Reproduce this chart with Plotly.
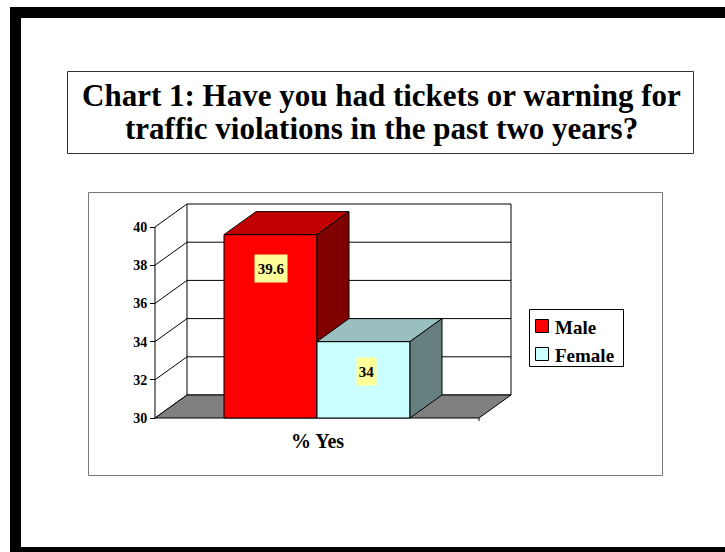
import plotly.graph_objects as go

# ---------------- data ----------------
categories = ["% Yes"]
series_names = ["Male", "Female"]
male_values = [39.6]
female_values = [34.0]
y_tick_values = [30, 32, 34, 36, 38, 40]
y_tick_labels = ["30", "32", "34", "36", "38", "40"]
title_lines = ["Chart 1: Have you had tickets or warning for",
               "traffic violations in the past two years?"]

series_values = [male_values, female_values]

# ---------------- styles ----------------
W, H = 725, 552
FONT = "Liberation Serif, Times New Roman, serif"
front_colors = ["#FF0000", "#CCFFFF"]
top_colors = ["#C00000", "#99BFBF"]
side_colors = ["#800000", "#668080"]

# pixel scale of the axes (plot area spans whole canvas)
PX_X = 93.0          # pixels per category-slot unit (one bar width)
PX_Y = 19.1          # pixels per value unit
X_ORIGIN_PX = 270.5  # pixel column of the first bar centre
Y_BASE_PX = 418.0    # pixel row of the axis minimum
Y_MIN, Y_MAX = 30.0, 40.0

x_range = [(0 - X_ORIGIN_PX) / PX_X, (W - X_ORIGIN_PX) / PX_X]
y_range = [Y_MIN - (H - Y_BASE_PX) / PX_Y, Y_MIN + Y_BASE_PX / PX_Y]

DEPTH_X = 32 / PX_X
DEPTH_Y = 23 / PX_Y
BAR_WIDTH = 1.0
SIDE_GAP = 0.742
n_series = len(series_names)
floor_left = -BAR_WIDTH / 2 - SIDE_GAP
floor_right = (n_series - 1) + BAR_WIDTH / 2 + SIDE_GAP


def px(x):
    return x / W


def py(y):
    return 1 - y / H


fig = go.Figure()


def poly(xs, ys, fill, line="black"):
    fig.add_trace(go.Scatter(
        x=xs + [xs[0]], y=ys + [ys[0]], mode="lines", fill="toself",
        fillcolor=fill, line=dict(color=line, width=1),
        hoverinfo="skip", showlegend=False))


# back wall + side wall lines
wx, wy = [], []
bl, br = floor_left + DEPTH_X, floor_right + DEPTH_X
for v in y_tick_values:
    # diagonal on the left wall
    wx += [floor_left, bl, None]
    wy += [v, v + DEPTH_Y, None]
    # back wall gridline
    wx += [bl, br, None]
    wy += [v + DEPTH_Y, v + DEPTH_Y, None]
wx += [bl, bl, None, br, br, None, floor_left, floor_left, None,
       floor_right, floor_right, None]
wy += [Y_MIN + DEPTH_Y, Y_MAX + DEPTH_Y, None, Y_MIN + DEPTH_Y, Y_MAX + DEPTH_Y, None,
       Y_MIN, Y_MAX, None, Y_MIN, Y_MIN - 3 / PX_Y, None]
fig.add_trace(go.Scatter(x=wx, y=wy, mode="lines",
                         line=dict(color="black", width=1),
                         hoverinfo="skip", showlegend=False))

# floor
poly([floor_left, floor_right, br, bl],
     [Y_MIN, Y_MIN, Y_MIN + DEPTH_Y, Y_MIN + DEPTH_Y], "#808080")

# bars
for i, vals in enumerate(series_values):
    v = vals[0]
    x0, x1 = i - BAR_WIDTH / 2, i + BAR_WIDTH / 2
    poly([x0, x1, x1, x0], [Y_MIN, Y_MIN, v, v], front_colors[i])
    poly([x0, x1, x1 + DEPTH_X, x0 + DEPTH_X], [v, v, v + DEPTH_Y, v + DEPTH_Y], top_colors[i])
    poly([x1, x1, x1 + DEPTH_X, x1 + DEPTH_X], [Y_MIN, v, v + DEPTH_Y, Y_MIN + DEPTH_Y], side_colors[i])

annotations = []
label_offsets = [(0, -33.5, 30, 25), (3, -29.5, 17, 25)]
for i, vals in enumerate(series_values):
    xs, ys, bw, bh = label_offsets[i]
    annotations.append(dict(
        x=i, y=vals[0], xref="x", yref="y", text=f"{vals[0]:g}", showarrow=False,
        xshift=xs, yshift=ys, bgcolor="#FFFF99", width=bw, height=bh,
        font=dict(family=FONT, size=15, color="black", weight="bold")))

# category label
annotations.append(dict(
    x=(n_series - 1) / 2, y=Y_MIN, xref="x", yref="y", text=categories[0],
    showarrow=False, yshift=-23, yanchor="middle",
    font=dict(family=FONT, size=20, color="black", weight="bold")))

# title lines
for cy, line in zip([95, 128], title_lines):
    annotations.append(dict(
        x=px(381), y=py(cy), xref="paper", yref="paper", text=line, showarrow=False,
        xanchor="center", yanchor="middle",
        font=dict(family=FONT, size=31, color="black", weight="bold")))

# legend text
for cy, name in zip([327, 355], series_names):
    annotations.append(dict(
        x=px(553), y=py(cy), xref="paper", yref="paper", text=name, showarrow=False,
        xanchor="left", yanchor="middle",
        font=dict(family=FONT, size=19, color="black", weight="bold")))

shapes = [
    # black frame
    dict(type="rect", xref="paper", yref="paper", x0=px(10), x1=px(726), y0=py(7), y1=py(18),
         fillcolor="black", line=dict(width=0)),
    dict(type="rect", xref="paper", yref="paper", x0=px(10), x1=px(21), y0=py(7), y1=py(553),
         fillcolor="black", line=dict(width=0)),
    dict(type="rect", xref="paper", yref="paper", x0=px(10), x1=px(726), y0=py(547), y1=py(553),
         fillcolor="black", line=dict(width=0)),
    # title box
    dict(type="rect", xref="paper", yref="paper", x0=px(67.5), x1=px(693.5), y0=py(71.5), y1=py(153.5),
         line=dict(color="#333333", width=1), layer="below"),
    # chart area box
    dict(type="rect", xref="paper", yref="paper", x0=px(88.5), x1=px(662.5), y0=py(192.5), y1=py(475.5),
         line=dict(color="#777777", width=1), layer="below"),
    # legend box
    dict(type="rect", xref="paper", yref="paper", x0=px(529.5), x1=px(623.5), y0=py(309.5), y1=py(366.5),
         line=dict(color="black", width=1), layer="below"),
]
for cy, col in zip([326, 354], front_colors):
    shapes.append(dict(type="rect", xref="paper", yref="paper",
                       x0=px(535.5), x1=px(548.5), y0=py(cy - 6.5), y1=py(cy + 6.5),
                       fillcolor=col, line=dict(color="black", width=1)))

fig.update_layout(
    width=W, height=H, margin=dict(l=0, r=0, t=0, b=0),
    paper_bgcolor="white", plot_bgcolor="white",
    showlegend=False,
    xaxis=dict(range=x_range, visible=False, fixedrange=True),
    yaxis=dict(range=y_range, anchor="free", position=155 / W, side="left",
               tickvals=y_tick_values, ticktext=y_tick_labels,
               ticks="outside", ticklen=5, tickwidth=1, tickcolor="black",
               showline=False, showgrid=False, zeroline=False, automargin=False,
               tickfont=dict(family=FONT, size=14, color="black", weight="bold"),
               fixedrange=True),
    annotations=annotations, shapes=shapes,
)

fig.write_html("out.html")
